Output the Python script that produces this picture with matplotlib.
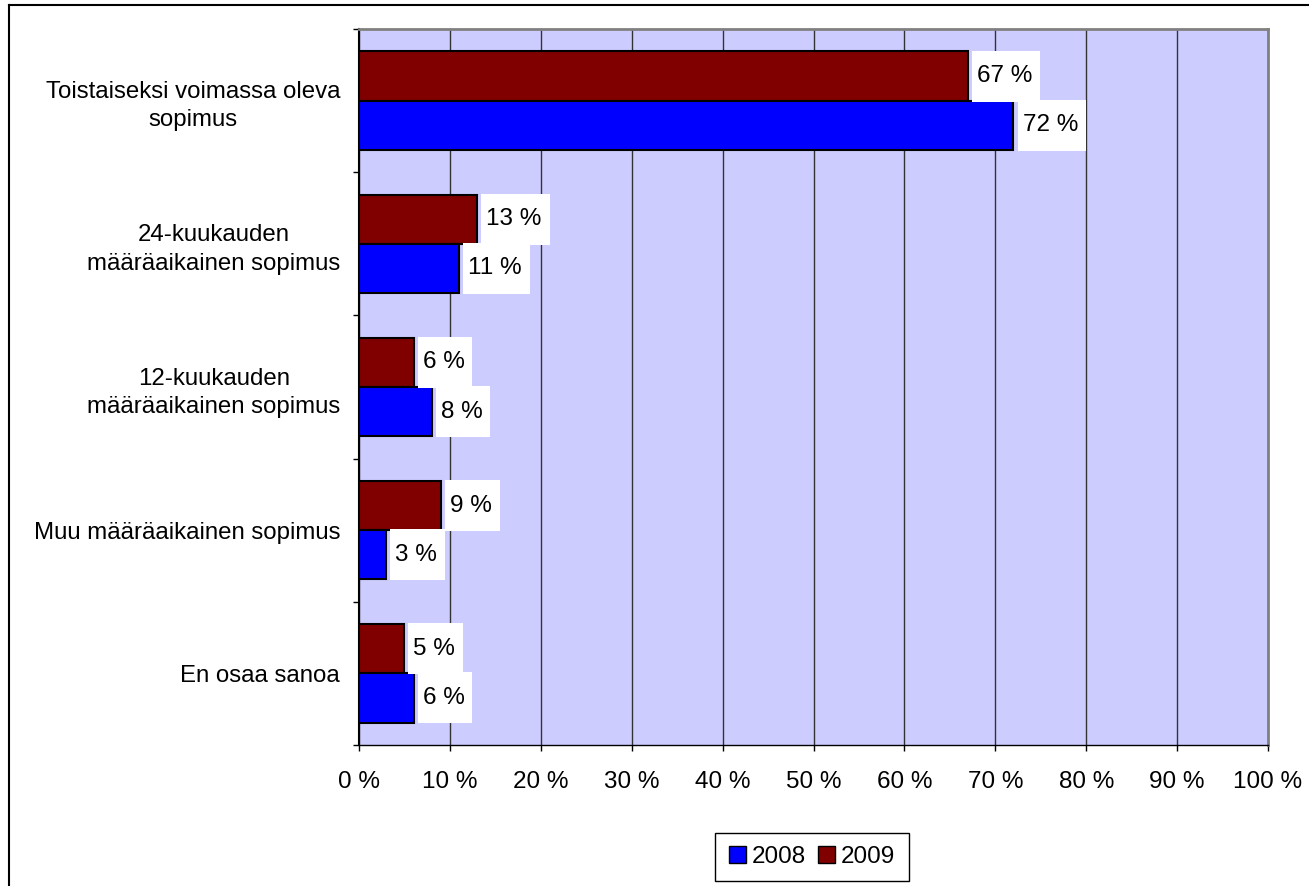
import numpy as np
import matplotlib.pyplot as plt
from matplotlib.patches import Patch, Rectangle
from matplotlib.lines import Line2D

categories = ['Toistaiseksi voimassa oleva\nsopimus',
              '24-kuukauden\nmääräaikainen sopimus',
              '12-kuukauden\nmääräaikainen sopimus',
              'Muu määräaikainen sopimus',
              'En osaa sanoa']
v2008 = [72, 11, 8, 3, 6]
v2009 = [67, 13, 6, 9, 5]
xticks = np.arange(0, 101, 10)

plt.rcParams['font.family'] = ['Liberation Sans', 'DejaVu Sans']
plt.rcParams['font.size'] = 17.5

W, H = 1309, 886
fig = plt.figure(figsize=(W / 100, H / 100), dpi=100)
ax = fig.add_axes([359 / W, 1 - 745 / H, (1268 - 359) / W, (745 - 29) / H])
ax.set_facecolor('#CCCCFF')

y = np.arange(len(categories))
h = 0.343
b09 = ax.barh(y - h / 2, v2009, height=h, color='#800000', edgecolor='black', linewidth=1.5, zorder=3)
b08 = ax.barh(y + h / 2, v2008, height=h, color='#0000FF', edgecolor='black', linewidth=1.5, zorder=3)

ax.set_xlim(0, 100)
ax.set_ylim(len(categories) - 0.5, -0.5)
ax.set_xticks(xticks)
ax.set_xticklabels([f'{t} %' for t in xticks])
ax.set_yticks(y)
ax.set_yticklabels(categories, fontsize=17.3)
for lab in ax.get_yticklabels():
    lab.set_multialignment('center')
    lab.set_linespacing(1.37)
ax.set_yticks(np.arange(-0.5, len(categories)), minor=True)
ax.tick_params(axis='y', which='major', length=0, pad=13.5)
ax.tick_params(axis='y', which='minor', length=4.5, width=1)
ax.tick_params(axis='x', length=4.5, width=1, pad=14)
ax.grid(axis='x', color='#333333', linewidth=1)
ax.set_axisbelow(True)

ax.spines['left'].set_linewidth(1.5)
ax.spines['bottom'].set_linewidth(1)
for s in ['top', 'right']:
    ax.spines[s].set_color('#808080')
    ax.spines[s].set_linewidth(2)

# value labels with white boxes
texts = []
for bars, vals in [(b09, v2009), (b08, v2008)]:
    for bar, v in zip(bars, vals):
        yc = bar.get_y() + bar.get_height() / 2
        t = ax.annotate(f'{v} %', xy=(v, yc), xytext=(6.5, 0), textcoords='offset points',
                        va='center', ha='left', zorder=6)
        texts.append(t)

fig.canvas.draw()
renderer = fig.canvas.get_renderer()
inv = ax.transData.inverted()
for t in texts:
    bb = t.get_window_extent(renderer)
    ymid = (bb.y0 + bb.y1) / 2
    (x0, y0) = inv.transform((bb.x0 - 5, ymid - 25.5))
    (x1, y1) = inv.transform((bb.x1 + 8, ymid + 25.5))
    ax.add_patch(Rectangle((x0, min(y0, y1)), x1 - x0, abs(y1 - y0),
                           facecolor='white', edgecolor='none', zorder=5, clip_on=False))

handles = [Patch(facecolor='#0000FF', edgecolor='black'), Patch(facecolor='#800000', edgecolor='black')]
leg = fig.legend(handles, ['2008', '2009'], loc='center', bbox_to_anchor=(812 / W, 1 - 857 / H),
                 ncol=2, frameon=True, fancybox=False, edgecolor='black', framealpha=1,
                 handlelength=0.7, handleheight=0.7, handletextpad=0.25, columnspacing=0.5,
                 borderpad=0.55, borderaxespad=0)
leg.get_frame().set_linewidth(1)

# outer chart frame (left and top edges visible)
fig.add_artist(Line2D([8.5 / W, 8.5 / W], [0, 1 - 5 / H], color='black', linewidth=1.5))
fig.add_artist(Line2D([8.5 / W, 1], [1 - 5 / H, 1 - 5 / H], color='black', linewidth=1.5))

fig.savefig('out.png', dpi=100)
